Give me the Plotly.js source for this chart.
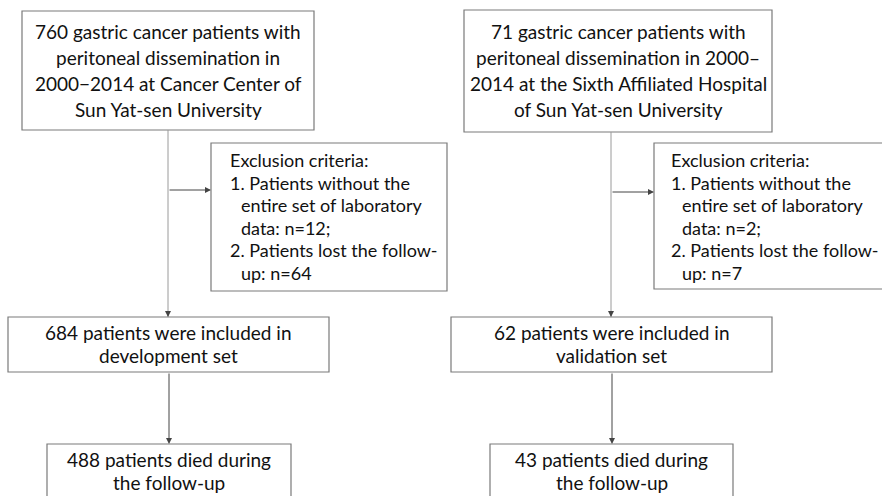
<!DOCTYPE html>
<html>
<head>
<meta charset="utf-8">
<script src="https://cdn.plot.ly/plotly-3.0.1.min.js"></script>
<style>html,body{margin:0;padding:0;background:#fff;}#chart{width:882px;height:496px;}</style>
</head>
<body>
<div id="chart"></div>
<script>
// ---- Flowchart content (text of each box) ----
const leftTopLines = ["760 gastric cancer patients with", "peritoneal dissemination in", "2000\u22122014 at Cancer Center of", "Sun Yat-sen University"];
const rightTopLines = ["71 gastric cancer patients with", "peritoneal dissemination in 2000\u2013", "2014 at the Sixth Affiliated Hospital", "of Sun Yat-sen University"];
const leftExclLines = ["Exclusion criteria:", "1. Patients without the", "entire set of laboratory", "data: n=12;", "2. Patients lost the follow-", "up: n=64"];
const rightExclLines = ["Exclusion criteria:", "1. Patients without the", "entire set of laboratory", "data: n=2;", "2. Patients lost the follow-", "up: n=7"];
const exclIndent = [0, 0, 1, 1, 0, 1];
const leftMidLines = ["684 patients were included in", "development set"];
const rightMidLines = ["62 patients were included in", "validation set"];
const leftBotLines = ["488 patients died during", "the follow-up"];
const rightBotLines = ["43 patients died during", "the follow-up"];

// ---- Layout geometry (pixel coordinates, y downward) ----
const boxes = [
  {x0: 22, x1: 314, y0: 11, y1: 130, lines: leftTopLines, ty: 31, dy: 26, align: "center"},
  {x0: 464, x1: 772, y0: 10, y1: 132, lines: rightTopLines, ty: 31, dy: 26, align: "center"},
  {x0: 211, x1: 447, y0: 143, y1: 291, lines: leftExclLines, ty: 160, dy: 22.6, align: "left", tx: 228},
  {x0: 654, x1: 900, y0: 143, y1: 289, lines: rightExclLines, ty: 160, dy: 22.6, align: "left", tx: 669},
  {x0: 8, x1: 329, y0: 317, y1: 372, lines: leftMidLines, ty: 332, dy: 23.5, align: "center"},
  {x0: 451, x1: 772, y0: 317, y1: 372, lines: rightMidLines, ty: 332, dy: 23.5, align: "center"},
  {x0: 47, x1: 291, y0: 444, y1: 520, lines: leftBotLines, ty: 459, dy: 23.5, align: "center"},
  {x0: 490, x1: 733, y0: 444, y1: 520, lines: rightBotLines, ty: 459, dy: 23.5, align: "center"}
];

const FONT = "Lato, 'Open Sans', sans-serif";
const shapes = [];
const annotations = [];

boxes.forEach(b => {
  shapes.push({type: "rect", xref: "x", yref: "y", x0: b.x0, x1: b.x1, y0: b.y0, y1: b.y1,
    line: {color: "#7a7a7a", width: 1.2}, fillcolor: "rgba(0,0,0,0)"});
  b.lines.forEach((t, i) => {
    const isExcl = b.align === "left";
    annotations.push({
      xref: "x", yref: "y",
      x: isExcl ? b.tx + (exclIndent[i] ? 11 : 0) : (b.x0 + b.x1) / 2,
      y: b.ty + i * b.dy,
      xanchor: isExcl ? "left" : "center", yanchor: "middle",
      text: t, showarrow: false,
      font: {family: FONT, size: isExcl ? 18 : 19, color: "#111"}
    });
  });
});

// connector lines (vertical trunks) and arrows
const trunks = [
  {x: 168, y0: 130, y1: 317, color: "#9a9a9a"},
  {x: 611, y0: 132, y1: 317, color: "#9a9a9a"}
];
trunks.forEach(t => shapes.push({type: "line", xref: "x", yref: "y", x0: t.x, x1: t.x, y0: t.y0, y1: t.y1,
  line: {color: t.color, width: 1}}));

const arrows = [
  {ax: 168, ay: 312, x: 168, y: 317, color: "#444"},
  {ax: 611, ay: 312, x: 611, y: 317, color: "#444"},
  {ax: 168, ay: 190, x: 211, y: 190, color: "#444"},
  {ax: 611, ay: 192, x: 654, y: 192, color: "#444"},
  {ax: 169, ay: 372, x: 169, y: 444, color: "#444"},
  {ax: 612, ay: 372, x: 612, y: 444, color: "#444"}
];
arrows.forEach(a => annotations.push({
  xref: "x", yref: "y", axref: "x", ayref: "y",
  x: a.x, y: a.y, ax: a.ax, ay: a.ay, text: "", showarrow: true,
  arrowhead: 2, arrowsize: 1.2, arrowwidth: 1, arrowcolor: a.color, standoff: 0, startstandoff: 0
}));

const layout = {
  width: 882, height: 496,
  margin: {l: 0, r: 0, t: 0, b: 0},
  paper_bgcolor: "#fff", plot_bgcolor: "#fff",
  xaxis: {range: [0, 882], visible: false, fixedrange: true},
  yaxis: {range: [496, 0], visible: false, fixedrange: true},
  shapes: shapes, annotations: annotations, showlegend: false
};
Plotly.newPlot("chart", [], layout, {staticPlot: true, displayModeBar: false});
</script>
</body>
</html>
